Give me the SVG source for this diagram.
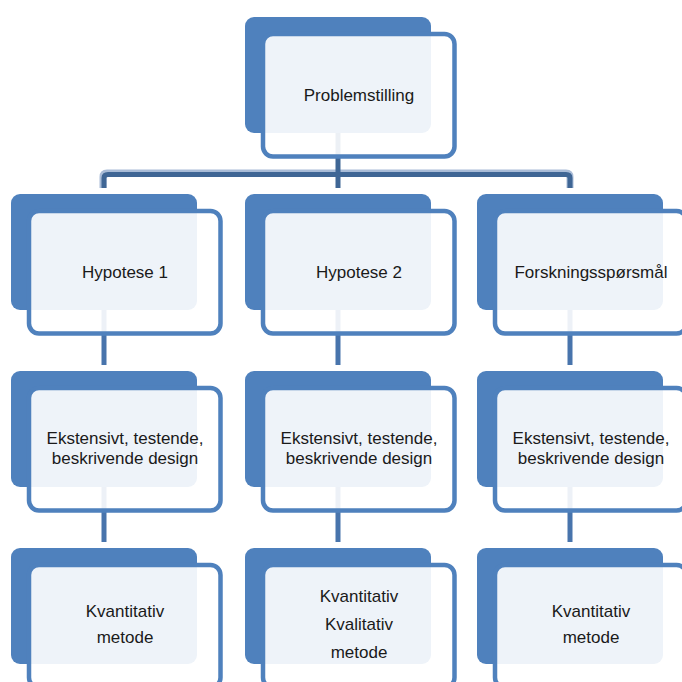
<svg xmlns="http://www.w3.org/2000/svg" width="682" height="682" viewBox="0 0 682 682">
<style>
.back{fill:#4F81BD}
.panel{fill:#FFFFFF;fill-opacity:0.9;stroke:#4F81BD;stroke-width:4.5}
.t{font-family:"Liberation Sans",Arial,sans-serif;font-size:17px;fill:#1A1A1A;text-anchor:middle}
.c{fill:none;stroke:#4874AC;stroke-width:5}
.bar{fill:none;stroke:#3F6695;stroke-width:5}
.barl{fill:none;stroke:#A9BCD7;stroke-width:7}
</style>
<rect width="682" height="682" fill="#FFFFFF"/>
<g id="connectors">
<path class="barl" d="M103,188 V177 Q103,173 107,173 H566 Q570,173 570,177 V188"/>
<path class="bar" d="M104,188 V178 Q104,174.5 108,174.5 H566 Q570,174.5 570,178 V188"/>
<path class="bar" d="M338,133 V188"/>
<path class="c" d="M104,310 V365 M338,310 V365 M570,310 V365"/>
<path class="c" d="M104,487 V542 M338,487 V542 M570,487 V542"/>
</g>
<g id="n-problemstilling">
<rect class="back" x="245" y="17" width="186" height="116" rx="9"/>
<rect class="panel" x="263" y="34" width="191.5" height="122.5" rx="10"/>
<text class="t" x="359" y="100.5">Problemstilling</text>
</g>
<g id="n-hypotese1">
<rect class="back" x="11" y="194" width="186" height="116" rx="9"/>
<rect class="panel" x="29" y="211" width="191.5" height="122.5" rx="10"/>
<text class="t" x="125" y="277.5">Hypotese 1</text>
</g>
<g id="n-hypotese2">
<rect class="back" x="245" y="194" width="186" height="116" rx="9"/>
<rect class="panel" x="263" y="211" width="191.5" height="122.5" rx="10"/>
<text class="t" x="359" y="277.5">Hypotese 2</text>
</g>
<g id="n-forskningssporsmal">
<rect class="back" x="477" y="194" width="186" height="116" rx="9"/>
<rect class="panel" x="495" y="211" width="191.5" height="122.5" rx="10"/>
<text class="t" x="591" y="277.5">Forskningsspørsmål</text>
</g>
<g id="n-design1">
<rect class="back" x="11" y="371" width="186" height="116" rx="9"/>
<rect class="panel" x="29" y="388" width="191.5" height="122.5" rx="10"/>
<text class="t" x="125" y="443.5">Ekstensivt, testende,</text>
<text class="t" x="125" y="464">beskrivende design</text>
</g>
<g id="n-design2">
<rect class="back" x="245" y="371" width="186" height="116" rx="9"/>
<rect class="panel" x="263" y="388" width="191.5" height="122.5" rx="10"/>
<text class="t" x="359" y="443.5">Ekstensivt, testende,</text>
<text class="t" x="359" y="464">beskrivende design</text>
</g>
<g id="n-design3">
<rect class="back" x="477" y="371" width="186" height="116" rx="9"/>
<rect class="panel" x="495" y="388" width="191.5" height="122.5" rx="10"/>
<text class="t" x="591" y="443.5">Ekstensivt, testende,</text>
<text class="t" x="591" y="464">beskrivende design</text>
</g>
<g id="n-metode1">
<rect class="back" x="11" y="548" width="186" height="116" rx="9"/>
<rect class="panel" x="29" y="565" width="191.5" height="122.5" rx="10"/>
<text class="t" x="125" y="617">Kvantitativ</text>
<text class="t" x="125" y="643">metode</text>
</g>
<g id="n-metode2">
<rect class="back" x="245" y="548" width="186" height="116" rx="9"/>
<rect class="panel" x="263" y="565" width="191.5" height="122.5" rx="10"/>
<text class="t" x="359" y="602">Kvantitativ</text>
<text class="t" x="359" y="630">Kvalitativ</text>
<text class="t" x="359" y="658">metode</text>
</g>
<g id="n-metode3">
<rect class="back" x="477" y="548" width="186" height="116" rx="9"/>
<rect class="panel" x="495" y="565" width="191.5" height="122.5" rx="10"/>
<text class="t" x="591" y="617">Kvantitativ</text>
<text class="t" x="591" y="643">metode</text>
</g>
</svg>
